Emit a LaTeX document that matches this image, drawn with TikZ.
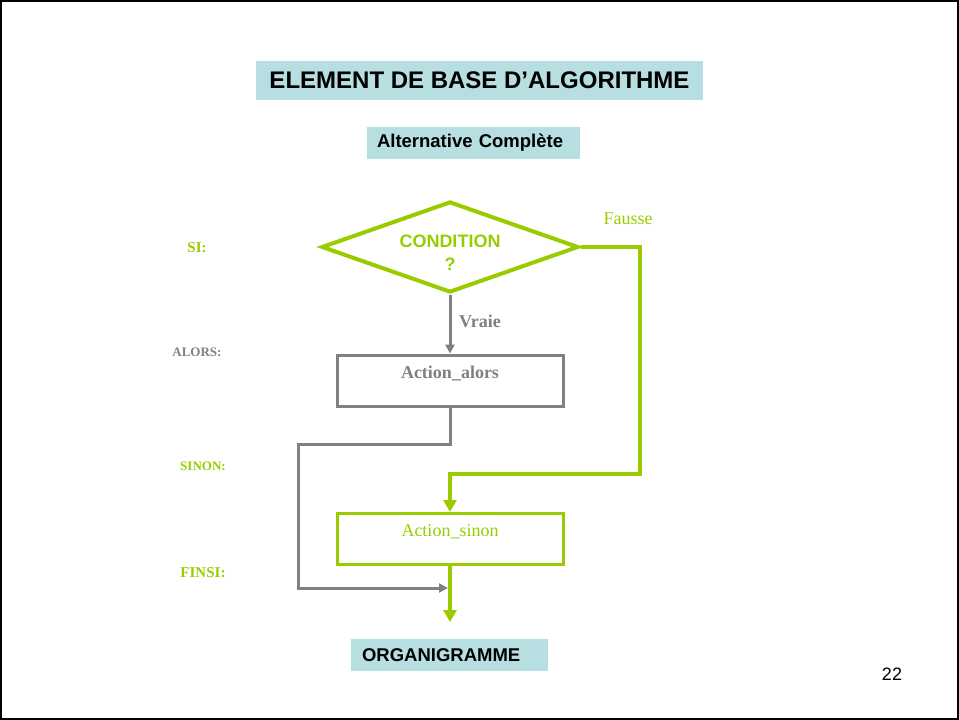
\documentclass[tikz,border=0pt]{standalone}
\usepackage{fontspec}
\setmainfont{Liberation Serif}
\setsansfont{Liberation Sans}
\usetikzlibrary{shapes.geometric,arrows.meta,positioning}
\definecolor{vert}{HTML}{99CC00}
\definecolor{gris}{HTML}{808080}
\definecolor{bleu}{HTML}{B7DEE1}

\begin{document}
\begin{tikzpicture}[x=1pt,y=-1pt,
    titre/.style={fill=bleu, inner sep=0pt, minimum width=447pt, minimum height=39pt,
        font={\sffamily\bfseries\fontsize{24}{28}\selectfont}},
    bandeau/.style={fill=bleu, inner ysep=0pt, minimum height=32pt, align=left,
        font={\sffamily\bfseries\fontsize{18.5}{22}\selectfont}},
    cond/.style={diamond, draw=vert, line width=4pt, inner sep=0pt,
        minimum width=257pt, minimum height=91pt},
    action/.style={rectangle, line width=3pt, inner ysep=0pt, minimum width=226pt,
        minimum height=51pt, text depth=17pt, font={\fontsize{18}{22}\selectfont}},
    mot/.style={font={\bfseries\fontsize{13}{15}\selectfont}},
    flechegris/.style={draw=gris, line width=3pt, -{Triangle[length=9pt,width=9pt]}},
    flechevert/.style={draw=vert, line width=4pt, -{Triangle[length=12pt,width=13pt]}}]

    % Page frame
    \useasboundingbox (0,0) rectangle (959,720);
    \draw[line width=2pt] (1,1) rectangle (958,719);

    % Headers
    \node[titre] (titre) at (479.5,80.5) {ELEMENT DE BASE D'ALGORITHME};
    \node[bandeau, inner xsep=10pt, text width=193pt] (alt) at (473.5,143) {Alternative Complète};
    \node[bandeau, inner xsep=11pt, text width=175pt] (orga) at (449.5,655) {ORGANIGRAMME};

    % Keywords on the left
    \node[mot, text=vert, font={\bfseries\fontsize{15}{17}\selectfont}] (si) at (197,248) {SI:};
    \node[mot, text=gris] (alors) at (197,352) {ALORS:};
    \node[mot, text=vert] (sinon) at (203,466) {SINON:};
    \node[mot, text=vert, font={\bfseries\fontsize{15}{17}\selectfont}] (finsi) at (203,573) {FINSI:};

    % Test and actions
    \node[cond] (cond) at (450,247) {};
    \node[text=vert, align=center, font={\sffamily\bfseries\fontsize{18}{23}\selectfont}] (condtxt) at (450,253) {CONDITION\\?};
    \node[action, draw=gris, text=gris, font={\bfseries\fontsize{18}{22}\selectfont}] (actalors) at (450,380.5) {Action\_alors};
    \node[action, draw=vert, text=vert] (actsinon) at (450,539) {Action\_sinon};

    % Branch labels
    \node[text=gris, font={\bfseries\fontsize{18}{22}\selectfont}] (vraie) at (480,321) {Vraie};
    \node[text=vert, font={\fontsize{18}{22}\selectfont}] (fausse) at (628,219) {Fausse};

    % Connectors
    \coordinate (jonction) at (448,588);
    \coordinate (sortie) at (450,622);
    \draw[flechegris] (cond.south) -- (actalors.north);
    \draw[flechegris] (actalors.south) -- ++(0,37) -| (298,588) -- (jonction);
    \draw[flechevert] (cond.east) -| (640,474) -| (actsinon.north);
    \draw[flechevert] (actsinon.south) -- (sortie);

    % Page number
    \node[font={\sffamily\fontsize{18}{22}\selectfont}] (page) at (892,674) {22};
\end{tikzpicture}
\end{document}
